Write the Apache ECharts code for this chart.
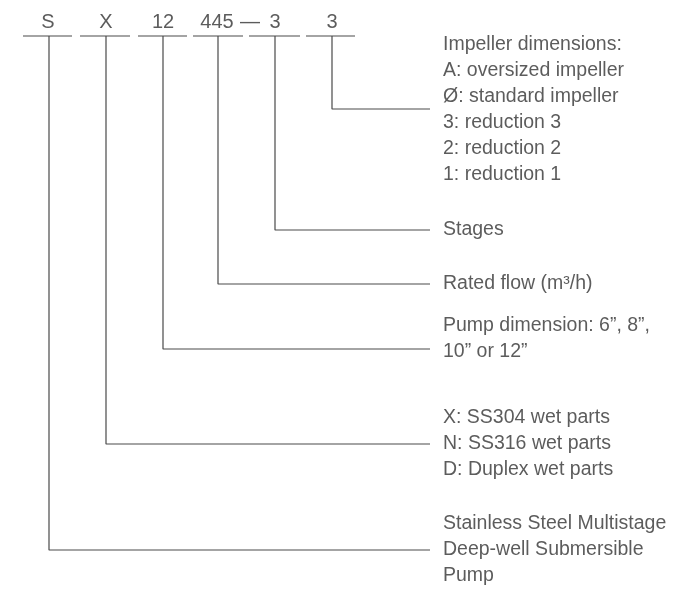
<!DOCTYPE html>
<html>
<head>
<meta charset="utf-8">
<script src="https://cdn.jsdelivr.net/npm/echarts@6/dist/echarts.min.js"></script>
<style>
html,body{margin:0;padding:0;background:#fff;}
#main{width:678px;height:593px;}
</style>
</head>
<body>
<div id="main"></div>
<script>
// Model code parts (top row)
const codeTexts = ['S', 'X', '12', '445', '\u2014', '3', '3'];
const codeX     = [48, 106, 163, 217, 250, 275, 332];
// Underline segments under each code field
const underlineStart = [23, 80, 138, 193, 249, 306];
const underlineEnd   = [72, 130, 187, 243, 300, 355];
const underlineY = 36;
// Connector stems (x of each field) and the level where each turns right
const stemX      = [49, 106, 163, 218, 275, 332];
const connectorY = [550, 444, 349, 284, 230, 109];
const connectorEndX = 430;
// Description text lines and their rows
const descX = 443;
const descLines = [
  'Impeller dimensions:', 'A: oversized impeller', '\u00D8: standard impeller',
  '3: reduction 3', '2: reduction 2', '1: reduction 1',
  'Stages',
  'Rated flow (m\u00B3/h)',
  'Pump dimension: 6\u201D, 8\u201D,', '10\u201D or 12\u201D',
  'X: SS304 wet parts', 'N: SS316 wet parts', 'D: Duplex wet parts',
  'Stainless Steel Multistage', 'Deep-well Submersible', 'Pump'
];
const descY = [45, 71, 97, 123, 149, 175, 230, 284, 326, 352, 418, 444, 470, 524, 550, 576];
const codeY = 22;

const lineColor = '#4a4a4a';
const textColor = '#333333';
const fontFamily = 'Liberation Sans, Arial, sans-serif';

const series = [];
underlineStart.forEach((s, i) => {
  series.push({
    type: 'line', silent: true, symbol: 'none', animation: false,
    lineStyle: {color: lineColor, width: 1.2},
    data: [[s, underlineY], [underlineEnd[i], underlineY]]
  });
});
stemX.forEach((x, i) => {
  series.push({
    type: 'line', silent: true, symbol: 'none', animation: false,
    lineStyle: {color: lineColor, width: 1.2},
    data: [[x, underlineY], [x, connectorY[i]], [connectorEndX, connectorY[i]]]
  });
});
series.push({
  type: 'scatter', symbolSize: 0, silent: true, animation: false,
  data: codeTexts.map((t, i) => [codeX[i], codeY, t]),
  label: {
    show: true, position: 'inside', formatter: p => p.value[2],
    color: textColor, fontSize: 20, fontFamily: fontFamily,
    align: 'center', verticalAlign: 'middle'
  }
});
series.push({
  type: 'scatter', symbolSize: 0, silent: true, animation: false,
  data: descLines.map((t, i) => [descX, descY[i], t]),
  label: {
    show: true, position: 'inside', formatter: p => p.value[2],
    color: textColor, fontSize: 19.5, fontFamily: fontFamily,
    align: 'left', verticalAlign: 'middle'
  }
});

const chart = echarts.init(document.getElementById('main'));
chart.setOption({
  backgroundColor: '#fff',
  animation: false,
  grid: {left: 0, right: 0, top: 0, bottom: 0},
  xAxis: {type: 'value', min: 0, max: 678, show: false},
  yAxis: {type: 'value', min: 0, max: 593, inverse: true, show: false},
  series: series
});
</script>
</body>
</html>
